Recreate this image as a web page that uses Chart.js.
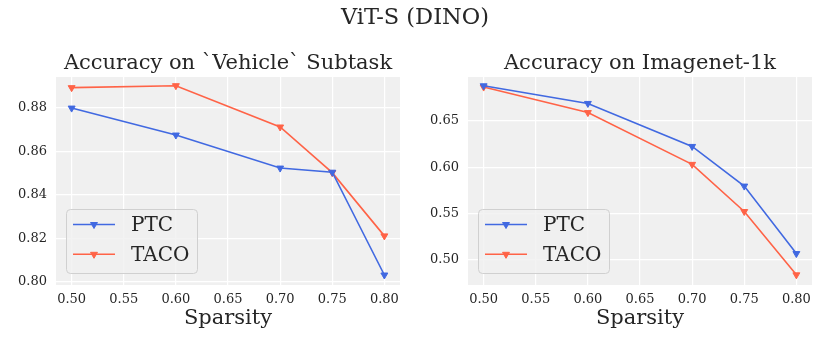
<!DOCTYPE html>
<html>
<head>
<meta charset="utf-8">
<script src="https://cdn.jsdelivr.net/npm/chart.js@4"></script>
<style>
  html, body { margin: 0; padding: 0; background: #ffffff; }
  #wrap { position: relative; width: 830px; height: 346px; overflow: hidden; }
  #sup { position: absolute; left: 0; top: 5px; width: 830px; text-align: center;
         font-family: 'DejaVu Serif', serif; font-size: 22.5px; line-height: 1; color: #262626; z-index: 2; }
  canvas { position: absolute; top: 0; }
</style>
</head>
<body>
<div id="wrap">
  <div id="sup">ViT-S (DINO)</div>
  <canvas id="c1" width="415" height="346" style="left:0"></canvas>
  <canvas id="c2" width="415" height="346" style="left:415px"></canvas>
</div>
<script>
// ---- data ----
const sparsity = [0.50, 0.60, 0.70, 0.75, 0.80];
const seriesNames = ['PTC', 'TACO'];
const vehiclePTC  = [0.8800, 0.8676, 0.8524, 0.8505, 0.8032];
const vehicleTACO = [0.8894, 0.8903, 0.8713, 0.8503, 0.8212];
const imagenetPTC  = [0.6880, 0.6689, 0.6224, 0.5795, 0.5065];
const imagenetTACO = [0.6866, 0.6590, 0.6030, 0.5520, 0.4835];
const xTickValues = [0.50, 0.55, 0.60, 0.65, 0.70, 0.75, 0.80];
const vehicleYTicks = [0.80, 0.82, 0.84, 0.86, 0.88];
const imagenetYTicks = [0.50, 0.55, 0.60, 0.65];
const titles = ['Accuracy on `Vehicle` Subtask', 'Accuracy on Imagenet-1k'];
const xLabel = 'Sparsity';

const colors = ['#4169E1', '#FF6347'];
const FONT = "'DejaVu Serif', serif";
const TEXT = '#262626';

const bgPlugin = {
  id: 'plotBg',
  beforeDraw(chart) {
    const {ctx, chartArea: a} = chart;
    ctx.save();
    ctx.fillStyle = '#f0f0f0';
    ctx.fillRect(a.left, a.top, a.right - a.left, a.bottom - a.top);
    ctx.restore();
  }
};

function drawTri(ctx, x, y, r, color) {
  ctx.save();
  ctx.fillStyle = color; ctx.strokeStyle = color; ctx.lineWidth = 1;
  ctx.beginPath();
  ctx.moveTo(x, y + r);
  ctx.lineTo(x - r * 0.866, y - r * 0.5);
  ctx.lineTo(x + r * 0.866, y - r * 0.5);
  ctx.closePath();
  ctx.fill(); ctx.stroke();
  ctx.restore();
}

const legendPlugin = {
  id: 'innerLegend',
  afterDatasetsDraw(chart) {
    const {ctx, chartArea: a} = chart;
    const w = 131, h = 64;
    const x0 = a.left + 10, y0 = a.bottom - 12 - h;
    ctx.save();
    ctx.beginPath();
    if (ctx.roundRect) ctx.roundRect(x0 + 0.5, y0 + 0.5, w, h, 4); else ctx.rect(x0 + 0.5, y0 + 0.5, w, h);
    ctx.fillStyle = 'rgba(240,240,240,0.8)';
    ctx.fill();
    ctx.strokeStyle = '#d0d0d0';
    ctx.lineWidth = 1;
    ctx.stroke();
    chart.data.datasets.forEach((ds, i) => {
      const yy = y0 + 15.5 + i * 29.8;
      ctx.strokeStyle = ds.borderColor;
      ctx.lineWidth = 1.6;
      ctx.beginPath();
      ctx.moveTo(x0 + 7, yy);
      ctx.lineTo(x0 + 49, yy);
      ctx.stroke();
      drawTri(ctx, x0 + 28, yy, 4, ds.borderColor);
      ctx.fillStyle = TEXT;
      ctx.font = '20px ' + FONT;
      ctx.textBaseline = 'middle';
      ctx.textAlign = 'left';
      ctx.fillText(ds.label, x0 + 65, yy + 1);
    });
    ctx.restore();
  }
};

function makeChart(id, title, ptc, taco, yTicks, yMin, yMax, yWidth, padRight) {
  const vals = [ptc, taco];
  return new Chart(document.getElementById(id), {
    type: 'line',
    data: {
      datasets: seriesNames.map((name, i) => ({
        label: name,
        data: sparsity.map((s, j) => ({x: s, y: vals[i][j]})),
        borderColor: colors[i],
        backgroundColor: colors[i],
        borderWidth: 1.6,
        pointStyle: 'triangle',
        rotation: 180,
        pointRadius: 4,
        pointBorderWidth: 1,
        tension: 0,
        fill: false
      }))
    },
    options: {
      responsive: false,
      animation: false,
      layout: { padding: { left: 0, right: padRight, top: 0, bottom: 0 } },
      plugins: {
        legend: { display: false },
        tooltip: { enabled: false },
        title: {
          display: true, text: title, fullSize: false, color: TEXT,
          font: { family: FONT, size: 21, weight: 'normal', lineHeight: 1.2 },
          padding: { top: 51, bottom: 0.8 }
        }
      },
      scales: {
        x: {
          type: 'linear', min: 0.485, max: 0.815,
          afterBuildTicks: s => { s.ticks = xTickValues.map(v => ({value: v})); },
          afterFit: s => { s.height = 61; },
          grid: { color: '#ffffff', lineWidth: 1.2, drawTicks: false },
          border: { display: false },
          ticks: { color: TEXT, padding: 7, font: { family: FONT, size: 13 },
                   callback: v => Number(v).toFixed(2), maxRotation: 0, autoSkip: false },
          title: { display: true, text: xLabel, color: TEXT,
                   font: { family: FONT, size: 21, lineHeight: 1.2 },
                   padding: { top: 0, bottom: 14.7 } }
        },
        y: {
          type: 'linear', min: yMin, max: yMax,
          afterBuildTicks: s => { s.ticks = yTicks.map(v => ({value: v})); },
          afterFit: s => { s.width = yWidth; },
          grid: { color: '#ffffff', lineWidth: 1.2, drawTicks: false },
          border: { display: false },
          ticks: { color: TEXT, padding: 9, font: { family: FONT, size: 13 },
                   callback: v => Number(v).toFixed(2), autoSkip: false }
        }
      }
    },
    plugins: [bgPlugin, legendPlugin]
  });
}

makeChart('c1', titles[0], vehiclePTC, vehicleTACO, vehicleYTicks, 0.7986, 0.8943, 56, 15);
makeChart('c2', titles[1], imagenetPTC, imagenetTACO, imagenetYTicks, 0.4725, 0.6975, 53, 18);
</script>
</body>
</html>
